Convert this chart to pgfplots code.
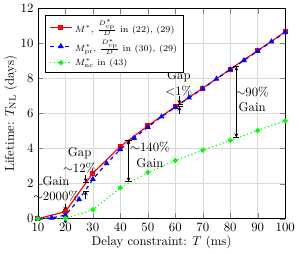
\documentclass[border=0pt]{standalone}
\usepackage{pgfplots}
\pgfplotsset{compat=1.18}
\usepackage{amsmath}
\usetikzlibrary{arrows.meta}
\begin{document}
\begin{tikzpicture}
\begin{axis}[
  width=194pt, height=165pt, scale only axis,
  xmin=10, xmax=100, ymin=0, ymax=12,
  xtick={10,20,...,100}, ytick={0,2,...,12},
  grid=major, grid style={gray!30},
  xlabel={Delay constraint: $T$ (ms)},
  ylabel={Lifetime: $T_{\mathrm{NL}}$ (days)},
  xlabel style={yshift=3pt}, ylabel style={yshift=-4pt},
  legend style={font=\scriptsize, cells={anchor=west}, at={(0.03,0.97)}, anchor=north west},
  clip=false,
]
\addplot[red, line width=0.9pt, mark=square*, mark size=1.5pt] coordinates {
(10,0) (20,0.4) (30,2.6) (40,4.12) (50,5.3) (60,6.39) (70,7.45) (80,8.53) (90,9.59) (100,10.66)};
\addlegendentry{$M^*$, $\frac{D^*_{\mathrm{cp}}}{D}$ in (22), (29)}
\addplot[blue, line width=0.9pt, dashed, mark=triangle*, mark size=1.8pt, mark options={solid}] coordinates {
(10,0) (15,0.05) (20,0.2) (25,1.1) (30,2.25) (35,3.15) (40,3.95) (45,4.6) (50,5.22) (55,5.82) (60,6.35) (65,6.9) (70,7.42) (75,7.97) (80,8.5) (85,9.03) (90,9.56) (95,10.1) (100,10.63)};
\addlegendentry{$M^*_{\mathrm{pr}}$, $\frac{D^*_{\mathrm{cp}}}{D}$ in (30), (29)}
\addplot[green, line width=0.9pt, dotted, mark=*, mark size=1.5pt, mark options={solid}] coordinates {
(10,0) (20,0.02) (30,0.51) (40,1.76) (50,2.64) (60,3.31) (70,3.91) (80,4.47) (90,5.03) (100,5.58)};
\addlegendentry{$M^*_{\mathrm{nc}}$ in (43)}
% annotations
\draw[-{Stealth[length=3pt,width=3pt]Bar[width=5pt]}] (axis cs:20,0.85) -- (axis cs:20,0.42);
\draw[-{Stealth[length=3pt,width=3pt]Bar[width=5pt]}] (axis cs:20,-0.25) -- (axis cs:20,0.02);
\node[align=center, inner sep=0pt] at (axis cs:16.6,1.71) {Gain\\$\sim$2000\%};
\draw[-{Stealth[length=3pt,width=3pt]Bar[width=5pt]}] (axis cs:27.4,2.5) -- (axis cs:27.4,2.06);
\draw[-{Stealth[length=3pt,width=3pt]Bar[width=5pt]}] (axis cs:27.4,1.1) -- (axis cs:27.4,1.6);
\node[align=center, inner sep=0pt] at (axis cs:25.2,3.32) {Gap\\$\sim$12\%};
\draw[{Bar[width=5pt]Stealth[length=3pt,width=3pt]}-{Stealth[length=3pt,width=3pt]Bar[width=5pt]}] (axis cs:43,4.5) -- (axis cs:43,2.1);
\node[align=center, inner sep=0pt] at (axis cs:50.8,3.65) {$\sim$140\%\\Gain};
\draw[-{Stealth[length=3pt,width=3pt]Bar[width=5pt]}] (axis cs:61.5,7.0) -- (axis cs:61.5,6.52);
\draw[-{Stealth[length=3pt,width=3pt]Bar[width=5pt]}] (axis cs:61.5,5.95) -- (axis cs:61.5,6.42);
\node[align=center, inner sep=0pt] at (axis cs:61.3,7.72) {Gap\\$<$1\%};
\draw[{Bar[width=5pt]Stealth[length=3pt,width=3pt]}-{Stealth[length=3pt,width=3pt]Bar[width=5pt]}] (axis cs:82.2,8.7) -- (axis cs:82.2,4.62);
\node[align=center, inner sep=0pt] at (axis cs:88,6.8) {$\sim$90\%\\Gain};
\end{axis}
\end{tikzpicture}
\end{document}
